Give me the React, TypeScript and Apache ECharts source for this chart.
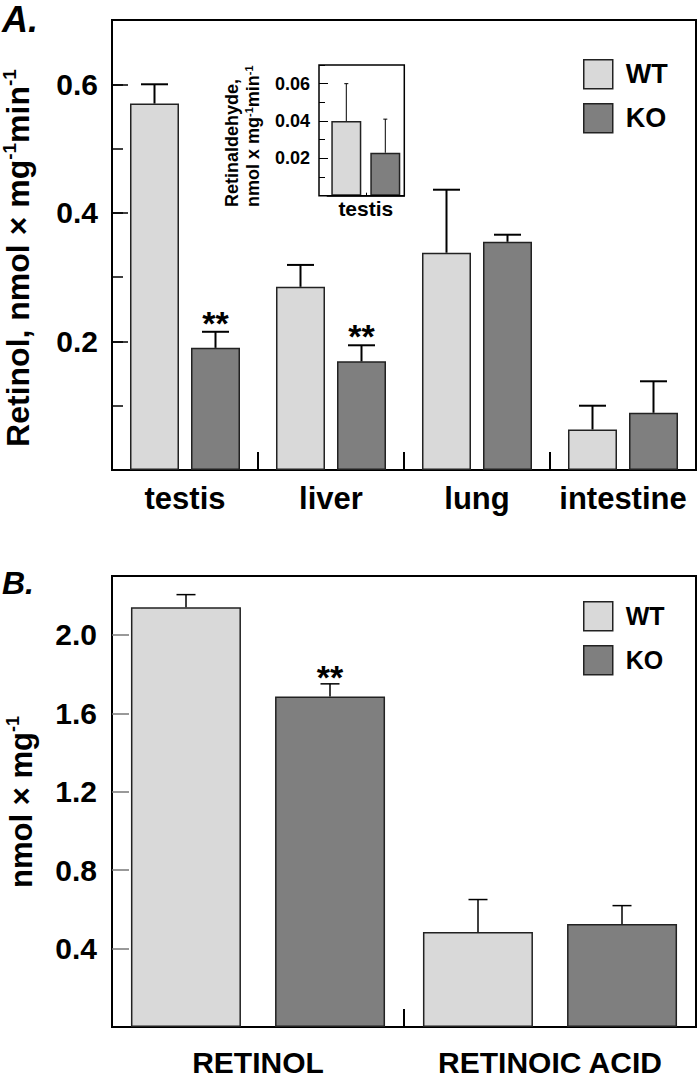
import React, { useEffect, useRef } from "react";
import * as echarts from "echarts";

// ---------- Data ----------
const tissueCategories = ["testis", "liver", "lung", "intestine"];
const retinolWT = [0.57, 0.285, 0.338, 0.063];
const retinolWTErr = [0.03, 0.034, 0.098, 0.037];
const retinolKO = [0.19, 0.169, 0.355, 0.089];
const retinolKOErr = [0.025, 0.025, 0.011, 0.049];
const retinolKOSig = ["**", "**", "", ""];
const retinolTicks = [0.2, 0.4, 0.6];

const insetCategories = ["testis"];
const retinaldehydeWT = [0.04];
const retinaldehydeWTErr = [0.02];
const retinaldehydeKO = [0.023];
const retinaldehydeKOErr = [0.018];

const contentCategories = ["RETINOL", "RETINOIC ACID"];
const contentWT = [2.14, 0.485];
const contentWTErr = [0.065, 0.165];
const contentKO = [1.685, 0.525];
const contentKOErr = [0.065, 0.094];
const contentKOSig = ["**", ""];

const groupNames = ["WT", "KO"];

// ---------- Styles ----------
const FONT = '"Liberation Sans", Arial, Helvetica, sans-serif';
const WT_COLOR = "#d9d9d9";
const KO_COLOR = "#7f7f7f";
const BAR_BORDER = "#222";

function errorSeries(
  xAxisIndex: number,
  yAxisIndex: number,
  values: number[],
  errs: number[],
  sig: string[] | null,
  offset: number,
  capW: number,
  lineW: number,
  sigSize: number,
  sigLift: number
) {
  return {
    type: "custom",
    name: "err",
    xAxisIndex,
    yAxisIndex,
    z: 5,
    silent: true,
    encode: { x: 0, y: 1 },
    data: values.map((v, i) => [i, v, errs[i]]),
    renderItem: (params: any, api: any) => {
      const i = api.value(0);
      const v = api.value(1);
      const e = api.value(2);
      const p0 = api.coord([i, v]);
      const p1 = api.coord([i, v + e]);
      const x = p0[0] + offset;
      const children: any[] = [
        {
          type: "line",
          shape: { x1: x, y1: p0[1], x2: x, y2: p1[1] },
          style: { stroke: "#000", lineWidth: lineW },
        },
        {
          type: "line",
          shape: { x1: x - capW / 2, y1: p1[1], x2: x + capW / 2, y2: p1[1] },
          style: { stroke: "#000", lineWidth: lineW },
        },
      ];
      const s = sig ? sig[params.dataIndex] : "";
      if (s) {
        children.push({
          type: "text",
          style: {
            text: s,
            x,
            y: p1[1] - sigLift,
            fill: "#000",
            fontSize: sigSize,
            fontWeight: "bold",
            fontFamily: FONT,
            align: "center",
            verticalAlign: "middle",
          },
        });
      }
      return { type: "group", children };
    },
  };
}

function barSeries(
  name: string,
  xAxisIndex: number,
  yAxisIndex: number,
  data: number[],
  color: string,
  barWidth: number,
  barGap: string,
  borderWidth: number
) {
  return {
    type: "bar",
    name,
    xAxisIndex,
    yAxisIndex,
    data,
    barWidth,
    barGap,
    z: 2,
    itemStyle: { color, borderColor: BAR_BORDER, borderWidth },
  };
}

const boldLabel = (size: number) => ({
  fontSize: size,
  fontWeight: "bold",
  color: "#000",
  fontFamily: FONT,
});

function buildOption() {
  const fmt1 = (v: number) => v.toFixed(1);
  const fmt2 = (v: number) => v.toFixed(2);
  return {
    animation: false,
    backgroundColor: "#fff",
    textStyle: { fontFamily: FONT },
    grid: [
      { left: 112, top: 20, width: 584, height: 450, show: true, borderColor: "#000", borderWidth: 2, backgroundColor: "transparent", outerBoundsMode: "none" },
      { left: 112, top: 20, width: 584, height: 450, outerBoundsMode: "none" },
      { left: 327.3, top: 65, width: 77, height: 130.7, outerBoundsMode: "none" },
      { left: 327.3, top: 65, width: 77, height: 130.7, outerBoundsMode: "none" },
      { left: 112, top: 576, width: 584, height: 451, show: true, borderColor: "#000", borderWidth: 2, backgroundColor: "transparent", outerBoundsMode: "none" },
    ],
    xAxis: [
      {
        gridIndex: 0, type: "category", data: tissueCategories,
        axisLine: { show: true, lineStyle: { color: "#000", width: 2 } },
        axisTick: { show: true, inside: true, interval: 0, length: 18, lineStyle: { color: "#000", width: 2 } },
        axisLabel: { ...boldLabel(31), margin: 13, interval: 0, hideOverlap: false },
        splitLine: { show: false },
      },
      { gridIndex: 1, type: "category", data: tissueCategories, show: false },
      {
        gridIndex: 2, type: "category", data: insetCategories,
        axisLine: { show: true, lineStyle: { color: "#000", width: 1.5 } },
        axisTick: { show: true, inside: true, interval: 0, alignWithLabel: true, length: 3, lineStyle: { color: "#000", width: 1 } },
        axisLabel: { ...boldLabel(21), margin: 2, interval: 0 },
        splitLine: { show: false },
      },
      { gridIndex: 3, type: "category", data: insetCategories, show: false },
      {
        gridIndex: 4, type: "category", data: contentCategories,
        axisLine: { show: true, lineStyle: { color: "#000", width: 2 } },
        axisTick: { show: true, inside: true, interval: 0, length: 18, lineStyle: { color: "#000", width: 2 } },
        axisLabel: { ...boldLabel(30), margin: 20, interval: 0, hideOverlap: false },
        splitLine: { show: false },
      },
    ],
    yAxis: [
      {
        gridIndex: 0, type: "value", min: 0, max: 0.7, interval: 0.2,
        axisLine: { show: false },
        axisTick: { show: true, inside: true, length: 16, lineStyle: { color: "#000", width: 1.5 } },
        axisLabel: {
          ...boldLabel(30), margin: 14, showMinLabel: false, showMaxLabel: false,
          formatter: (v: number) => (retinolTicks.some((t) => Math.abs(t - v) < 1e-6) ? fmt1(v) : ""),
        },
        splitLine: { show: false },
      },
      {
        gridIndex: 1, type: "value", min: 0, max: 0.7, interval: 0.1,
        axisLine: { show: false },
        axisTick: { show: true, inside: true, length: 11, lineStyle: { color: "#000", width: 1.5 } },
        axisLabel: { show: false },
        splitLine: { show: false },
      },
      {
        gridIndex: 2, type: "value", min: 0, max: 0.07, interval: 0.02, offset: 8.3,
        axisLine: { show: false },
        axisTick: { show: true, inside: true, length: 9, lineStyle: { color: "#000", width: 1 } },
        axisLabel: { ...boldLabel(18), margin: 9, showMinLabel: false, showMaxLabel: false, formatter: fmt2 },
        splitLine: { show: false },
      },
      {
        gridIndex: 3, type: "value", min: 0, max: 0.07, interval: 0.01, offset: 8.3,
        axisLine: { show: false },
        axisTick: { show: true, inside: true, length: 6, lineStyle: { color: "#000", width: 1 } },
        axisLabel: { show: false },
        splitLine: { show: false },
      },
      {
        gridIndex: 4, type: "value", min: 0, max: 2.3, interval: 0.4,
        axisLine: { show: false },
        axisTick: { show: true, inside: true, length: 17, lineStyle: { color: "#777", width: 1.5 } },
        axisLabel: { ...boldLabel(30), margin: 15, showMinLabel: false, showMaxLabel: false, formatter: fmt1 },
        splitLine: { show: false },
      },
    ],
    legend: [
      {
        data: groupNames, orient: "vertical", left: 583, top: 59,
        itemWidth: 29, itemHeight: 29, itemGap: 13.5, padding: 0, icon: "rect",
        selectedMode: false,
        itemStyle: { borderColor: BAR_BORDER, borderWidth: 1.5 },
        textStyle: { ...boldLabel(27), padding: [0, 0, 0, 8] },
      },
      {
        data: groupNames, orient: "vertical", left: 583, top: 601,
        itemWidth: 29, itemHeight: 29, itemGap: 13.5, padding: 0, icon: "rect",
        selectedMode: false,
        itemStyle: { borderColor: BAR_BORDER, borderWidth: 1.5 },
        textStyle: { ...boldLabel(25), padding: [0, 0, 0, 8] },
      },
    ],
    series: [
      barSeries(groupNames[0], 0, 0, retinolWT, WT_COLOR, 49, "24.5%", 1.5),
      barSeries(groupNames[1], 0, 0, retinolKO, KO_COLOR, 49, "24.5%", 1.5),
      errorSeries(0, 0, retinolWT, retinolWTErr, null, -30.5, 27, 2, 34, 9),
      errorSeries(0, 0, retinolKO, retinolKOErr, retinolKOSig, 30.5, 27, 2, 34, 9),

      barSeries(groupNames[0], 2, 2, retinaldehydeWT, WT_COLOR, 30, "30%", 1.5),
      barSeries(groupNames[1], 2, 2, retinaldehydeKO, KO_COLOR, 30, "30%", 1.5),
      errorSeries(2, 2, retinaldehydeWT, retinaldehydeWTErr, null, -19.5, 4, 1, 20, 5),
      errorSeries(2, 2, retinaldehydeKO, retinaldehydeKOErr, null, 19.5, 4, 1, 20, 5),

      barSeries(groupNames[0], 4, 4, contentWT, WT_COLOR, 110, "31%", 1.5),
      barSeries(groupNames[1], 4, 4, contentKO, KO_COLOR, 110, "31%", 1.5),
      errorSeries(4, 4, contentWT, contentWTErr, null, -72, 19, 1.5, 34, 7),
      errorSeries(4, 4, contentKO, contentKOErr, contentKOSig, 72, 19, 1.5, 34, 7),
    ],
    graphic: [
      {
        type: "text", x: 2, y: 19, z: 100,
        style: { text: "A.", fill: "#000", fontSize: 36, fontWeight: "bold", fontStyle: "italic", fontFamily: FONT, align: "left", verticalAlign: "middle" },
      },
      {
        type: "text", x: 2, y: 583, z: 100,
        style: { text: "B.", fill: "#000", fontSize: 32, fontWeight: "bold", fontStyle: "italic", fontFamily: FONT, align: "left", verticalAlign: "middle" },
      },
      {
        type: "rect", z: 100,
        shape: { x: 319, y: 65, width: 85.3, height: 130.7 },
        style: { fill: "none", stroke: "#000", lineWidth: 1.5 },
      },
      {
        type: "text", x: 18, y: 258, rotation: Math.PI / 2, z: 100,
        style: {
          text: "{m|Retinol, nmol × mg}{s|-1}{m|min}{s|-1}",
          align: "center", verticalAlign: "middle",
          rich: {
            m: { fontSize: 32, fontWeight: "bold", fontFamily: FONT, fill: "#000", lineHeight: 36 },
            s: { fontSize: 19, fontWeight: "bold", fontFamily: FONT, fill: "#000", lineHeight: 20, verticalAlign: "top" },
          },
        },
      },
      {
        type: "text", x: 21, y: 802, rotation: Math.PI / 2, z: 100,
        style: {
          text: "{m|nmol × mg}{s|-1}",
          align: "center", verticalAlign: "middle",
          rich: {
            m: { fontSize: 31, fontWeight: "bold", fontFamily: FONT, fill: "#000", lineHeight: 35 },
            s: { fontSize: 18, fontWeight: "bold", fontFamily: FONT, fill: "#000", lineHeight: 19, verticalAlign: "top" },
          },
        },
      },
      {
        type: "text", x: 232, y: 207, rotation: Math.PI / 2, z: 100,
        style: {
          text: "Retinaldehyde,", fill: "#000", fontSize: 18, fontWeight: "bold", fontFamily: FONT,
          align: "left", verticalAlign: "middle",
        },
      },
      {
        type: "text", x: 253, y: 207, rotation: Math.PI / 2, z: 100,
        style: {
          text: "{m|nmol x mg}{s|-1}{m|min}{s|-1}",
          align: "left", verticalAlign: "middle",
          rich: {
            m: { fontSize: 18, fontWeight: "bold", fontFamily: FONT, fill: "#000", lineHeight: 20 },
            s: { fontSize: 11, fontWeight: "bold", fontFamily: FONT, fill: "#000", lineHeight: 11, verticalAlign: "top" },
          },
        },
      },
    ],
  };
}

export default function App() {
  const ref = useRef<HTMLDivElement>(null);
  useEffect(() => {
    document.body.style.margin = "0";
    if (!ref.current) return;
    const chart = echarts.init(ref.current, null, { renderer: "svg" });
    chart.setOption(buildOption() as any);
    return () => chart.dispose();
  }, []);
  return <div ref={ref} style={{ width: 700, height: 1082 }} />;
}
